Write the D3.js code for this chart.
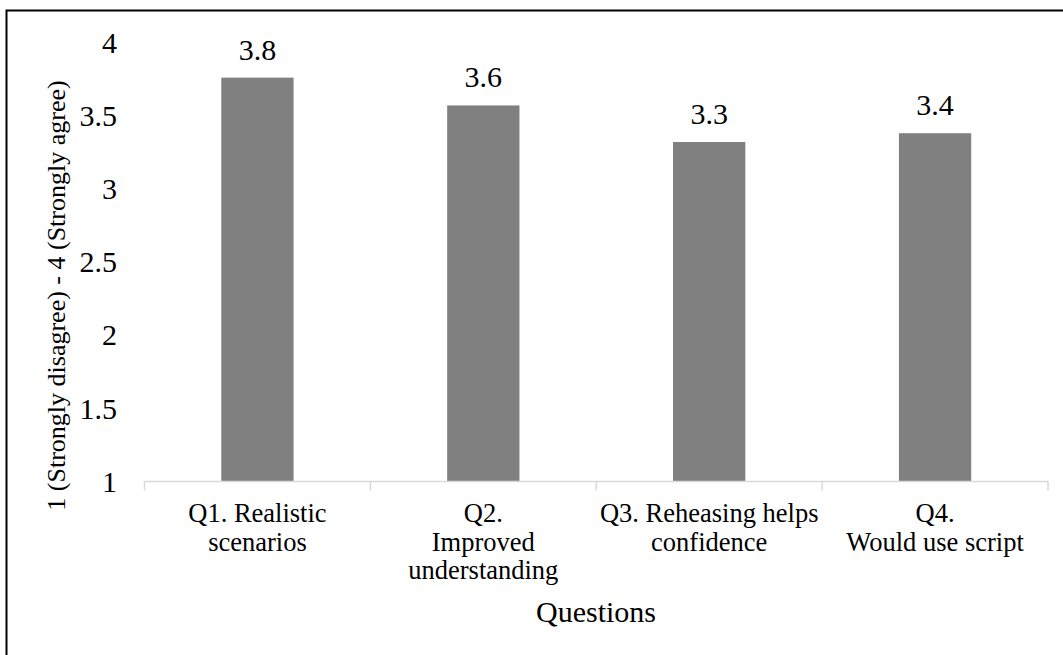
<!DOCTYPE html>
<html>
<head>
<meta charset="utf-8">
<script src="https://cdn.jsdelivr.net/npm/d3@7"></script>
<style>
  body { margin: 0; background: #fff; }
</style>
</head>
<body>
<div id="chart"></div>
<script>
var categories = ['Q1', 'Q2', 'Q3', 'Q4'];
var categoryLines = [
  ['Q1. Realistic', 'scenarios'],
  ['Q2.', 'Improved', 'understanding'],
  ['Q3. Reheasing helps', 'confidence'],
  ['Q4.', 'Would use script']
];
var values = [3.76, 3.57, 3.32, 3.38];
var valueLabels = ['3.8', '3.6', '3.3', '3.4'];
var yTicks = [1, 1.5, 2, 2.5, 3, 3.5, 4];
var yTitle = '1 (Strongly disagree) - 4 (Strongly agree)';
var xTitle = 'Questions';

var width = 1063,
    height = 655;

var svg = d3.select('#chart').append('svg')
  .attr('width', width)
  .attr('height', height)
  .attr('font-family', "'Liberation Serif', 'DejaVu Serif', serif")
  .attr('fill', '#000');

// outer frame (only left/top visible in the picture)
svg.append('rect')
  .attr('x', 6.5).attr('y', 10.5)
  .attr('width', width + 10).attr('height', height + 10)
  .attr('fill', 'none')
  .attr('stroke', '#000')
  .attr('stroke-width', 2);

var x = d3.scaleBand()
  .domain(categories)
  .range([144.5, 1048])
  .paddingInner(0.68)
  .paddingOuter(0.34);

var y = d3.scaleLinear()
  .domain([1, 4])
  .range([481.5, 42.5]);

// bars
svg.append('g').selectAll('rect')
  .data(values)
  .enter().append('rect')
  .attr('x', function(d, i) { return x(categories[i]); })
  .attr('y', function(d) { return y(d); })
  .attr('width', x.bandwidth())
  .attr('height', function(d) { return y(1) - y(d); })
  .attr('fill', '#808080');

// value labels
svg.append('g').selectAll('text')
  .data(values)
  .enter().append('text')
  .attr('x', function(d, i) { return x(categories[i]) + x.bandwidth() / 2; })
  .attr('y', function(d) { return y(d) - 18; })
  .attr('text-anchor', 'middle')
  .attr('font-size', 30)
  .text(function(d, i) { return valueLabels[i]; });

// x axis line + ticks at category boundaries
var step = x.step();
var x0 = 144.5;
var xAxis = svg.append('g');
xAxis.append('line')
  .attr('x1', x0).attr('x2', 1048)
  .attr('y1', y(1)).attr('y2', y(1))
  .attr('stroke', '#d9d9d9')
  .attr('stroke-width', 1.5);
xAxis.selectAll('line.tick')
  .data(d3.range(categories.length + 1))
  .enter().append('line')
  .attr('class', 'tick')
  .attr('x1', function(d) { return x0 + d * step; })
  .attr('x2', function(d) { return x0 + d * step; })
  .attr('y1', y(1))
  .attr('y2', y(1) + 9)
  .attr('stroke', '#d9d9d9')
  .attr('stroke-width', 1.5);

// category labels
var catLabels = svg.append('g').selectAll('text')
  .data(categoryLines)
  .enter().append('text')
  .attr('text-anchor', 'middle')
  .attr('font-size', 26.5);
catLabels.each(function(lines, i) {
  var cx = x(categories[i]) + x.bandwidth() / 2;
  d3.select(this).selectAll('tspan')
    .data(lines)
    .enter().append('tspan')
    .attr('x', cx)
    .attr('y', function(d, j) { return 522 + j * 28.5; })
    .text(function(d) { return d; });
});

// y tick labels
svg.append('g').selectAll('text')
  .data(yTicks)
  .enter().append('text')
  .attr('x', 117)
  .attr('y', function(d) { return y(d); })
  .attr('dy', '0.34em')
  .attr('text-anchor', 'end')
  .attr('font-size', 30)
  .text(function(d) { return d; });

// axis titles
svg.append('text')
  .attr('transform', 'translate(65,295.5) rotate(-90)')
  .attr('text-anchor', 'middle')
  .attr('font-size', 26)
  .text(yTitle);

svg.append('text')
  .attr('x', 596)
  .attr('y', 622)
  .attr('text-anchor', 'middle')
  .attr('font-size', 30)
  .text(xTitle);
</script>
</body>
</html>
